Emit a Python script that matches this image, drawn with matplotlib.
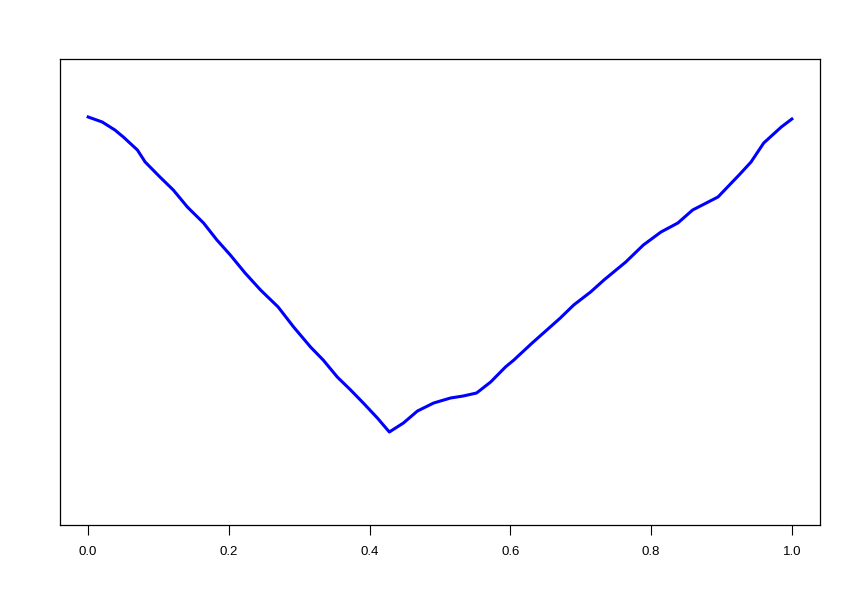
import matplotlib
matplotlib.use("Agg")
import matplotlib.pyplot as plt

plt.rcParams['font.family'] = ['Liberation Sans', 'DejaVu Sans']

# valores
x = [0.000, 0.020, 0.038, 0.050, 0.070, 0.081, 0.102, 0.121, 0.141, 0.164,
     0.183, 0.202, 0.223, 0.245, 0.270, 0.292, 0.316, 0.334, 0.354, 0.373,
     0.391, 0.411, 0.428, 0.448, 0.468, 0.491, 0.515, 0.533, 0.552, 0.572,
     0.593, 0.605, 0.631, 0.671, 0.690, 0.714, 0.733, 0.764, 0.789, 0.814,
     0.838, 0.859, 0.895, 0.925, 0.942, 0.960, 0.985, 1.000]
y = [408, 403, 395, 388, 375, 363, 348, 335, 318, 302,
     285, 270, 252, 235, 218, 198, 178, 165, 148, 135,
     122, 107, 93, 102, 114, 122, 127, 129, 132, 143,
     158, 165, 182, 207, 220, 233, 245, 263, 280, 293,
     302, 315, 328, 350, 363, 382, 398, 406]

fig = plt.figure(figsize=(8.5, 6), dpi=100)
ax = fig.add_axes([60/850, 75/600, 760/850, 466/600])
ax.plot(x, y, color='#0000ff', linewidth=2.2)

ax.set_xlim(-0.04, 1.04)
ax.set_ylim(0, 466)
ax.set_xticks([0.0, 0.2, 0.4, 0.6, 0.8, 1.0])
ax.set_xticklabels(['0.0', '0.2', '0.4', '0.6', '0.8', '1.0'])
ax.set_yticks([])
ax.tick_params(axis='x', length=7, width=0.8, pad=8, labelsize=9.5)
for s in ax.spines.values():
    s.set_linewidth(0.9)

plt.savefig('out.png')
plt.close()
